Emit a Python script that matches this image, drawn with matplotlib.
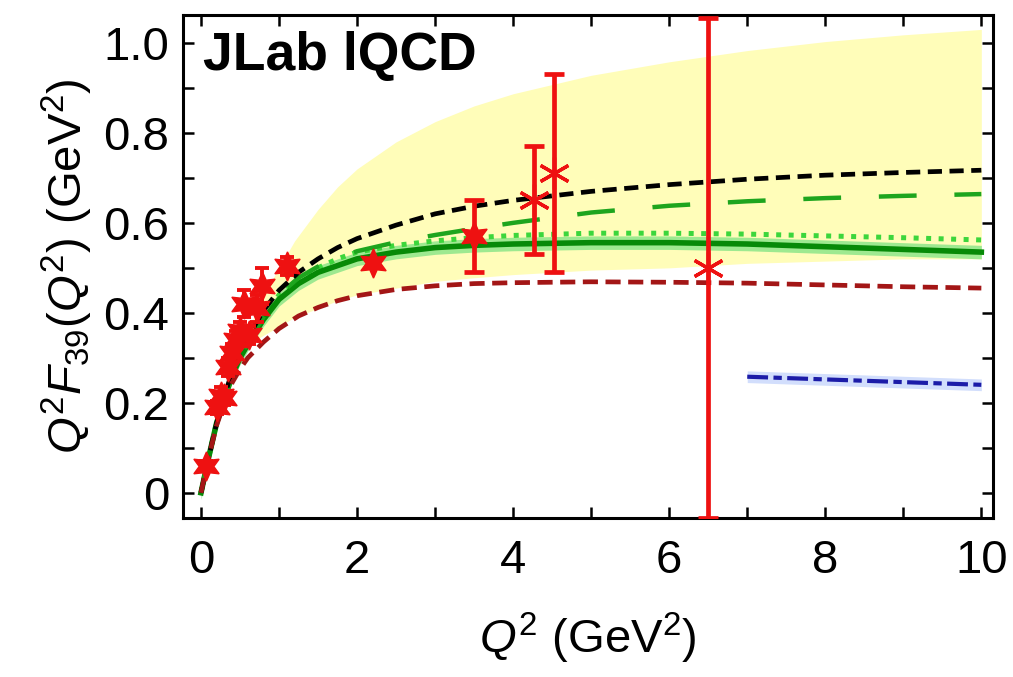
import matplotlib
matplotlib.use("Agg")
import matplotlib.pyplot as plt
import numpy as np

plt.rcParams['font.family'] = ['Liberation Sans', 'DejaVu Sans']
plt.rcParams['mathtext.fontset'] = 'custom'
plt.rcParams['mathtext.rm'] = 'Liberation Sans'
plt.rcParams['mathtext.it'] = 'Liberation Sans:italic'

# ---- model curves: Q^2 F_39(Q^2) ----
q2 = [0, 0.1, 0.2, 0.3, 0.4, 0.5, 0.6, 0.8, 1.0, 1.25, 1.5, 1.75, 2.0,
      2.5, 3.0, 3.5, 4, 5, 6, 7, 8, 9, 10]
black_dash = [0, 0.08, 0.155, 0.215, 0.27, 0.31, 0.345, 0.405, 0.45, 0.49,
              0.52, 0.545, 0.565, 0.595, 0.62, 0.637, 0.65, 0.67, 0.685,
              0.697, 0.706, 0.712, 0.717]
green_solid = [0, 0.08, 0.155, 0.21, 0.26, 0.30, 0.33, 0.385, 0.43, 0.465,
               0.49, 0.505, 0.52, 0.535, 0.545, 0.55, 0.553, 0.556, 0.556,
               0.553, 0.547, 0.541, 0.535]
green_dot = [0, 0.08, 0.156, 0.212, 0.262, 0.303, 0.335, 0.39, 0.44, 0.475,
             0.50, 0.52, 0.535, 0.55, 0.56, 0.567, 0.572, 0.577, 0.577,
             0.575, 0.571, 0.567, 0.562]
green_dash = [0, 0.08, 0.156, 0.212, 0.262, 0.303, 0.335, 0.39, 0.44, 0.478,
              0.503, 0.522, 0.537, 0.557, 0.573, 0.587, 0.60, 0.623, 0.638,
              0.648, 0.655, 0.660, 0.664]
red_dash = [0, 0.08, 0.15, 0.20, 0.245, 0.275, 0.30, 0.335, 0.365, 0.393,
            0.412, 0.427, 0.438, 0.452, 0.460, 0.465, 0.467, 0.469, 0.468,
            0.466, 0.462, 0.458, 0.455]

# lattice QCD band
band_q2 = [0.6, 0.8, 1.0, 1.2, 1.5, 1.75, 2, 2.5, 3, 3.5, 4, 5, 6, 7, 8,
           9, 10]
band_hi = [0.36, 0.44, 0.50, 0.56, 0.63, 0.68, 0.72, 0.78, 0.825, 0.86,
           0.887, 0.928, 0.958, 0.983, 1.003, 1.018, 1.03]
band_lo = [0.33, 0.35, 0.37, 0.39, 0.41, 0.427, 0.44, 0.455, 0.47, 0.478,
           0.485, 0.495, 0.50, 0.51, 0.515, 0.52, 0.52]

# large-Q^2 estimate
blue_q2 = [7, 7.5, 8, 8.5, 9, 9.5, 10]
blue_val = [0.258, 0.255, 0.252, 0.249, 0.246, 0.243, 0.240]

# data points
data_q2 = [0.06, 0.20, 0.25, 0.30, 0.35, 0.40, 0.45, 0.50, 0.55, 0.62,
           0.72, 0.78, 1.10, 2.20]
data_val = [0.06, 0.19, 0.215, 0.21, 0.28, 0.31, 0.34, 0.36, 0.42, 0.35,
            0.41, 0.46, 0.505, 0.51]
data_err = [0.01, 0.015, 0.02, 0.015, 0.02, 0.02, 0.02, 0.02, 0.03, 0.02,
            0.03, 0.04, 0.02, 0.01]
hi_q2 = [3.50, 4.27, 4.52, 6.50]
hi_val = [0.57, 0.65, 0.71, 0.50]
hi_err = [0.08, 0.12, 0.22, 0.556]

fig = plt.figure(figsize=(10.13, 6.77), dpi=100)
ax = fig.add_axes([0.1807, 0.2349, 0.7996, 0.7429])

ax.fill_between(band_q2, band_lo, band_hi, color='#fffdb9', lw=0, zorder=1)

gs = np.array(green_solid)
ax.fill_between(q2, gs - 0.015, gs + 0.015, color='#86e486', lw=0,
                alpha=0.8, zorder=2)
ax.plot(q2, green_dot, color='#3cd63c', lw=3.6, dashes=(1.0, 1.5),
        zorder=3)
ax.plot(q2, green_solid, color='#078a07', lw=4.0, zorder=4)
ax.plot(q2, green_dash, color='#1ea51e', lw=3.2, dashes=(8.5, 8.5),
        zorder=4)
ax.plot(q2, black_dash, color='black', lw=3.4, dashes=(3.0, 1.6), zorder=5)
ax.plot(q2, red_dash, color='#a31616', lw=3.4, dashes=(3.2, 1.6), zorder=5)

bv = np.array(blue_val)
ax.fill_between(blue_q2, bv - 0.013, bv + 0.013, color='#d2defc', lw=0,
                zorder=2)
ax.plot(blue_q2, blue_val, color='#1c1ca8', lw=3.0,
        dashes=(5.0, 1.3, 2.0, 1.3), zorder=5)

ax.errorbar(data_q2, data_val, yerr=data_err, fmt='none', ecolor='#ee1111',
            elinewidth=2.8, capsize=5, capthick=2.8, zorder=6)
ax.plot(data_q2, data_val, ls='none', marker=(6, 1, 0), ms=21,
        color='#ee1111', mec='#ee1111', zorder=7)
ax.errorbar(hi_q2, hi_val, yerr=hi_err, fmt='none', ecolor='#ee1111',
            elinewidth=3.4, capsize=7, capthick=3.4, zorder=6)
ax.plot(hi_q2[:1], hi_val[:1], ls='none', marker=(6, 1, 0), ms=21,
        color='#ee1111', mec='#ee1111', zorder=7)
ax.plot(hi_q2[1:], hi_val[1:], ls='none', marker=(6, 2, 0), ms=23,
        mew=2.4, color='#ee1111', zorder=7)

ax.set_xlim(-0.23, 10.15)
ax.set_ylim(-0.056, 1.062)
ax.set_xticks(np.arange(0, 11, 2))
ax.set_xticks(np.arange(0, 11, 1), minor=True)
ax.set_yticks(np.arange(0, 1.01, 0.2))
ax.set_yticks(np.arange(0, 1.01, 0.1), minor=True)
ax.set_yticklabels(['0', '0.2', '0.4', '0.6', '0.8', '1.0'])
ax.tick_params(which='both', direction='in', top=True, right=True,
               length=8, width=1.8, labelsize=34, pad=10)
ax.tick_params(axis='x', pad=15)
for s in ax.spines.values():
    s.set_linewidth(2.2)

ax.set_xlabel(r'$Q^2$ (GeV$^2$)', fontsize=34, labelpad=20)
ax.set_ylabel(r'$Q^2F_{39}(Q^2)$ (GeV$^2$)', fontsize=34, labelpad=6)

ax.text(0.025, 0.968, 'JLab lQCD', transform=ax.transAxes, fontsize=38.5,
        fontweight='bold', va='top', ha='left', zorder=8)

fig.savefig('out.png', dpi=100)
